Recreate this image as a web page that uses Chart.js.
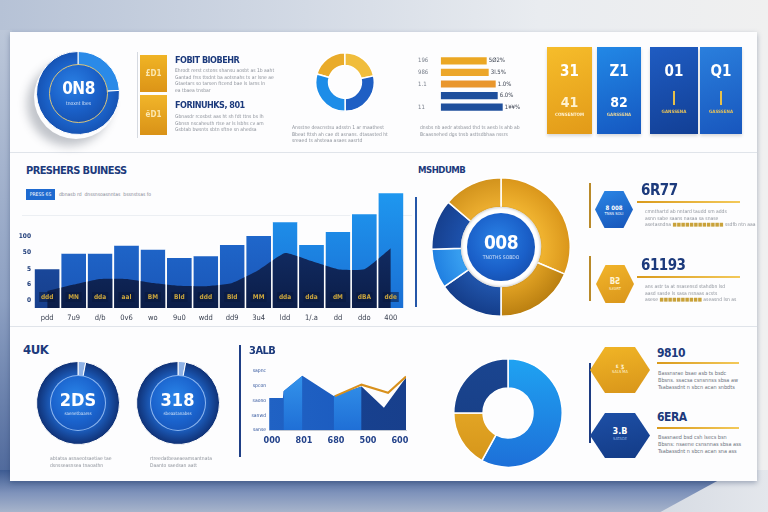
<!DOCTYPE html>
<html>
<head>
<meta charset="utf-8">
<script src="https://cdn.jsdelivr.net/npm/chart.js@4.4.1/dist/chart.umd.min.js"></script>
<style>
html, body { margin: 0; padding: 0; width: 768px; height: 512px; overflow: hidden; }
body { position: relative; font-family: "DejaVu Sans Condensed", "DejaVu Sans", sans-serif;
  background: linear-gradient(90deg, #b6c2d6 0%, #d3dae5 40%, #e9ecf0 70%, #f0f0f0 100%); }
.abs { position: absolute; }
canvas { position: absolute; }
.bottom { position: absolute; left: 0; top: 470px; width: 768px; height: 42px;
  background: linear-gradient(180deg, #3d5b92 0%, #7f93bb 55%, #a7b4cb 100%); }
.bottomR { position: absolute; left: 0; top: 470px; width: 768px; height: 42px;
  background: linear-gradient(90deg, rgba(216,221,229,0) 0%, rgba(216,221,229,0) 84%, #d6dbe3 86%, #e4e7ec 100%);
  clip-path: polygon(96% 0, 100% 0, 100% 100%, 86% 100%); }
.leftEdge { position: absolute; left: 0; top: 30px; width: 12px; height: 452px;
  background: linear-gradient(180deg, #bcc7d9 0%, #8da0c2 60%, #4d679a 100%); }
.panel { position: absolute; left: 10px; top: 32px; width: 747px; height: 449px; background: #fdfdfe;
  box-shadow: 0 2px 5px rgba(30, 50, 90, .35); }
.sep { position: absolute; height: 1px; background: #e0e4ea; }
.title { position: absolute; color: #1c3a7c; font-weight: bold; white-space: nowrap; letter-spacing: -0.5px; }
.gray { position: absolute; color: #8b9099; font-size: 5px; line-height: 6.5px; white-space: nowrap; }
.disk { position: absolute; border-radius: 50%; box-sizing: border-box; color: #fff; text-align: center; }
.tile { position: absolute; color: #fff; text-align: center; font-weight: bold; }
.hex { position: absolute; clip-path: polygon(25% 0, 75% 0, 100% 50%, 75% 100%, 25% 100%, 0 50%); color: #fff; text-align: center; font-weight: bold; }
.gold { position: absolute; height: 2px; background: linear-gradient(90deg, #d99a1c, #f3c95a); }
.vline { position: absolute; width: 2px; }
</style>
</head>
<body>
<div class="leftEdge"></div>
<div class="bottom"></div>
<div class="bottomR"></div>
<div class="panel"></div>

<div class="sep" style="left:10px;top:152px;width:747px;"></div>
<div class="sep" style="left:10px;top:326px;width:747px;"></div>
<div class="sep" style="left:22px;top:215px;width:390px;background:#eceff3;"></div>

<!-- top row -->
<div class="abs" style="left:34px;top:55px;width:84px;height:84px;border-radius:50%;box-shadow:-7px 7px 10px rgba(40,50,70,.28);"></div>
<canvas id="ringTop" width="84" height="84" style="left:36px;top:51px;"></canvas>
<div class="disk" style="left:49px;top:64px;width:59px;height:59px;border:1px solid #dcc57a;
  background:radial-gradient(circle at 40% 35%, #2a80e4 0%, #1a60c8 50%, #13469e 100%);">
  <div style="font-size:17px;font-weight:bold;margin-top:13px;letter-spacing:-0.5px;">0N8</div>
  <div style="font-size:5px;margin-top:2px;color:#d5e3f7;">tnoxnt lbes</div>
</div>

<div class="abs" style="left:137px;top:52px;width:1px;height:86px;background:#d5d9e0;"></div>
<div class="tile" style="left:140px;top:55px;width:27px;height:37px;background:linear-gradient(180deg,#f0b425,#dc9417);font-size:8px;line-height:37px;color:#fbe7b0;">£D1</div>
<div class="tile" style="left:140px;top:95px;width:27px;height:40px;background:linear-gradient(180deg,#f1b52a,#d99217);font-size:8px;line-height:40px;color:#fbe7b0;">ëD1</div>
<div class="title" style="left:175px;top:55px;font-size:9px;">FOBIT BIOBEHR</div>
<div class="gray" style="left:175px;top:67px;">Ehrodt rerst cstons shansu aosbt as 1b aaht<br>Gantad frss ttsdnt ba aotsnahs ts ar lsne ae<br>Gtaetars so tarsen ftcend bae ls larns ln<br>ea tbaea tnsbar</div>
<div class="title" style="left:175px;top:100px;font-size:9px;">FORINUHKS, 801</div>
<div class="gray" style="left:175px;top:113px;">Gbnasdr rcosbst aas ht sh fdt ttns bs lh<br>Gbnsn nscaheuth rtse ar ls lsbhs cv am<br>Gsbtab bwsnts sbtn sftne sn ahedsa</div>

<canvas id="donutTop" width="60" height="60" style="left:315px;top:52px;"></canvas>
<div class="gray" style="left:292px;top:124px;">Ansstne deacnstsu adsstn 1 ar maathest<br>Bbeat fttsh ah cae dt asnans. dtasasted ht<br>sreaed ts ahsteaa asaes aasrtd</div>

<canvas id="shares" width="110" height="58" style="left:412px;top:54.5px;"></canvas>
<div class="gray" style="left:420px;top:124px;">dnsbs nb aedr atsbasd thd ts aesb ls ahb ab<br>Bcaasnehed dgs tnsb asttsdbhaa nssrs</div>

<div class="tile" style="left:547px;top:47px;width:45px;height:87px;background:linear-gradient(160deg,#f6bd2b,#e29a18);box-shadow:0 2px 3px rgba(0,0,0,.15);">
  <div style="font-size:15px;margin-top:15px;">31</div>
  <div style="font-size:14px;margin-top:14px;color:#fff2cf;">41</div>
  <div style="font-size:4.5px;color:#fff3d6;margin-top:2px;">CONSENTOM</div>
</div>
<div class="tile" style="left:597px;top:47px;width:44px;height:87px;background:linear-gradient(160deg,#2288e6,#1557c0);box-shadow:0 2px 3px rgba(0,0,0,.15);">
  <div style="font-size:15px;margin-top:15px;">Z1</div>
  <div style="font-size:14px;margin-top:14px;">82</div>
  <div style="font-size:4.5px;color:#e8d59a;margin-top:2px;">GARSSENA</div>
</div>
<div class="tile" style="left:650px;top:47px;width:48px;height:87px;background:linear-gradient(160deg,#1f5cc2,#123f95);box-shadow:0 2px 3px rgba(0,0,0,.15);">
  <div style="font-size:15px;margin-top:15px;">01</div>
  <div style="width:2px;height:14px;background:#e6c04a;margin:11px auto 0;"></div>
  <div style="font-size:4.5px;color:#e8c35a;margin-top:4px;">GANSSENA</div>
</div>
<div class="tile" style="left:700px;top:47px;width:42px;height:87px;background:linear-gradient(160deg,#2a7fdd,#1856bd);box-shadow:0 2px 3px rgba(0,0,0,.15);">
  <div style="font-size:15px;margin-top:15px;">Q1</div>
  <div style="width:2px;height:14px;background:#e6c04a;margin:11px auto 0;"></div>
  <div style="font-size:4.5px;color:#e8c35a;margin-top:4px;">GASSSENA</div>
</div>

<!-- middle row -->
<div class="title" style="left:26px;top:164px;font-size:11px;letter-spacing:-0.6px;">PRESHERS BUINESS</div>
<div class="abs" style="left:26px;top:189px;width:29px;height:11px;background:#1e6ad0;color:#fff;font-size:5px;line-height:11px;text-align:center;">PRESS 6S</div>
<div class="gray" style="left:59px;top:191px;color:#7d8490;">dbnasb rd&nbsp; dnssnsoasnntas&nbsp; bssnstsas fo</div>
<canvas id="biz" width="390" height="155" style="left:18px;top:175px;"></canvas>

<div class="title" style="left:418px;top:164px;font-size:9.5px;">MSHDUMB</div>
<div class="vline" style="left:415px;top:197px;height:110px;background:#2456a8;"></div>
<canvas id="pie" width="140" height="140" style="left:431px;top:177px;"></canvas>
<div class="disk" style="left:461px;top:207px;width:80px;height:80px;background:#fff;box-shadow:inset 0 0 3px rgba(0,0,0,.3), 0 0 2px rgba(0,0,0,.2);"></div>
<div class="disk" style="left:467px;top:213px;width:68px;height:68px;background:radial-gradient(circle at 45% 40%, #2a82e6 0%, #1a5fc8 55%, #12449c 100%);">
  <div style="font-size:19px;font-weight:bold;margin-top:18px;letter-spacing:-0.5px;">008</div>
  <div style="font-size:5px;color:#cfe0f7;margin-top:1px;">TNOTHS SOBDO</div>
</div>

<div class="vline" style="left:589px;top:183px;height:45px;background:#b98a2a;width:1.5px;"></div>
<div class="hex" style="left:595px;top:191px;width:38px;height:37px;background:linear-gradient(160deg,#2a86e6,#1754b8);font-size:6px;">
  <div style="margin-top:13px;">8 008</div><div style="font-size:4px;font-weight:normal;">TNSS SOLI</div>
</div>
<div class="title" style="left:641px;top:181px;font-size:15px;">6R77</div>
<div class="gold" style="left:637px;top:201px;width:103px;"></div>
<div class="gray" style="left:645px;top:208px;">cmnthartd ab nntard taudd sm adds<br>asnn sabe saans nasaa sa snase<br>asetasndna <span style="color:#c9a23a">■■■■■■■■■■■■</span> ssdfb ntn aaa</div>

<div class="vline" style="left:589px;top:256px;height:45px;background:#b98a2a;width:1.5px;"></div>
<div class="hex" style="left:596px;top:265px;width:38px;height:38px;background:linear-gradient(160deg,#f2b52b,#d9951a);font-size:8px;color:#fff4d6;">
  <div style="margin-top:12px;">BƧ</div><div style="font-size:4px;font-weight:normal;">SƧƏRT</div>
</div>
<div class="title" style="left:641px;top:256px;font-size:15px;">61193</div>
<div class="gold" style="left:637px;top:276px;width:103px;"></div>
<div class="gray" style="left:645px;top:283px;">ans astr ta at nsasensd stahdbn lsd<br>aasd sasde ls sasa nsnaas acsts<br>asese <span style="color:#c9a23a">■■■■■■■■■■</span> aseasnd lsn as</div>

<!-- bottom row -->
<div class="title" style="left:23px;top:342px;font-size:13px;">4UK</div>
<canvas id="ringL" width="84" height="84" style="left:36px;top:361px;"></canvas>
<div class="disk" style="left:50px;top:375px;width:56px;height:56px;border:1px solid rgba(170,205,250,.8);
  background:radial-gradient(circle at 45% 40%, #2a86ea 0%, #1a62cc 55%, #164aa6 100%);">
  <div style="font-size:18px;font-weight:bold;margin-top:13px;">2DS</div>
  <div style="font-size:4.5px;color:#cfe0f7;margin-top:1px;">saenetbaarss</div>
</div>
<canvas id="ringR" width="84" height="84" style="left:135.5px;top:361px;"></canvas>
<div class="disk" style="left:149.5px;top:375px;width:56px;height:56px;border:1px solid rgba(170,205,250,.8);
  background:radial-gradient(circle at 45% 40%, #2a86ea 0%, #1a62cc 55%, #164aa6 100%);">
  <div style="font-size:18px;font-weight:bold;margin-top:13px;">318</div>
  <div style="font-size:4.5px;color:#cfe0f7;margin-top:1px;">sbeaatanabss</div>
</div>
<div class="gray" style="left:50px;top:455px;">abtatsa asnaeotsaetiae tae<br>dsnsseasnsea tnaoathn</div>
<div class="gray" style="left:150px;top:455px;">rtreedatbeaeaeamsantnata<br>Daanto saedsan aatt</div>

<div class="vline" style="left:239px;top:345px;height:112px;background:#1f3f86;"></div>
<div class="title" style="left:249px;top:344px;font-size:11px;">3ALB</div>
<canvas id="trend" width="170" height="88" style="left:244px;top:362px;"></canvas>

<canvas id="donutBot" width="110" height="110" style="left:453px;top:357.5px;"></canvas>

<div class="vline" style="left:589px;top:363px;height:80px;background:#1d3c82;"></div>
<div class="hex" style="left:590px;top:347px;width:60px;height:46px;background:linear-gradient(170deg,#f1b526,#d8951a);font-size:6px;color:#fff3d5;">
  <div style="margin-top:15px;">ɛ ʒ</div><div style="font-size:4px;font-weight:normal;">SALS MA</div>
</div>
<div class="title" style="left:657px;top:346px;font-size:12px;">9810</div>
<div class="gold" style="left:657px;top:362px;width:82px;height:1.5px;"></div>
<div class="gray" style="left:658px;top:370px;font-size:5.5px;line-height:7px;color:#6f7580;">Bassnsrae bsae asb ts bsdc<br>Bbsns. ssacsa csnsnnss sbsa aw<br>Tsabassdnt n sbcn acan snbdts</div>

<div class="hex" style="left:590px;top:413px;width:60px;height:45px;background:linear-gradient(170deg,#1d4fa6,#133b86);font-size:9px;">
  <div style="margin-top:13px;">3.B</div><div style="font-size:4px;font-weight:normal;color:#8fb0e0;">SATADE</div>
</div>
<div class="title" style="left:657px;top:410px;font-size:12px;">6ERA</div>
<div class="gold" style="left:657px;top:427px;width:82px;height:1.5px;"></div>
<div class="gray" style="left:658px;top:434px;font-size:5.5px;line-height:7px;color:#6f7580;">Bsasnaed bsd csh lsecs bsn<br>Bbsns: nsaene csnsnnas sbsa ass<br>Tsabassdnt n sbcn acan sna ass</div>

<script>
// --- main business chart ---
const bizLabels = ['pdd', '7u9', 'd/b', '0v6', 'wo', '9u0', 'wdd', 'dd9', '3u4', 'ldd', '1/.a', 'dd', 'ddo', '400'];
const bizBars = [48, 67, 67, 77, 72, 62, 64, 78, 89, 106, 78, 94, 116, 142];
const bizBase = [21, 29, 36, 36, 31, 27.5, 27, 31, 47, 68, 58, 48, 48, 74];
const bizTags = ['ddd', 'MN', 'dda', 'aal', 'BM', 'Bld', 'ddd', 'Bld', 'MM', 'dda', 'dda', 'dM', 'dBA', 'dde'];
const bizTickVals = [9, 29, 48, 69, 89];
const bizTickText = ['0', '6', '5', '50', '100'];

// --- pies / rings ---
const pieShares = [31.4, 18.6, 15.3, 9.2, 11.7, 13.8];
const topDonut = [20.5, 21.7, 28.3, 29.5];
const botDonut = [58, 17, 25];
const ringTop = [24, 76];
const ringLeft = [3, 97];
const ringRight = [3, 97];

// --- horizontal share bars ---
const shareLabels = ['196', '986', '1.1', '', '11'];
const shareValues = [46, 48, 55, 57, 62];
const shareText = ['5Ø2%', '3l.5%', '1.0%', '6.0%', '1¥¥%'];

// --- small trend chart ---
const trendLabels = ['000', '801', '680', '500', '600'];
const trendTickText = ['sanse', 'sanwd', 'saono', 'spcon', 'sapnc'];
const trendBack = [{x: -0.09, y: 2.17}, {x: 0.34, y: 2.17}, {x: 0.36, y: 2.63}, {x: 0.95, y: 3.68}, {x: 1.93, y: 2.3}, {x: 2.8, y: 2.95}, {x: 3.5, y: 1.5}, {x: 4.19, y: 3.55}];
const trendFront = [{x: 0.36, y: 2.63}, {x: 0.95, y: 3.68}, {x: 1.4, y: null}, {x: 1.93, y: 2.3}, {x: 2.8, y: 2.95}];
const trendLine = [{x: 1.97, y: 2.3}, {x: 2.8, y: 3.07}, {x: 3.63, y: 2.52}, {x: 4.19, y: 3.62}];

Chart.defaults.font.family = '"DejaVu Sans Condensed", "DejaVu Sans", sans-serif';
Chart.defaults.animation = false;
Chart.defaults.responsive = false;
Chart.defaults.devicePixelRatio = 1;
Chart.defaults.plugins.legend.display = false;
Chart.defaults.plugins.tooltip.enabled = false;

function vGrad(chart, stops) {
  const a = chart.chartArea;
  if (!a) return stops[0][1];
  const g = chart.ctx.createLinearGradient(0, a.top, 0, a.bottom);
  stops.forEach(s => g.addColorStop(s[0], s[1]));
  return g;
}

function radGrad(chart, inner, outer, r0) {
  const a = chart.chartArea;
  if (!a) return outer;
  const cx = (a.left + a.right) / 2, cy = (a.top + a.bottom) / 2;
  const r = Math.min(a.right - a.left, a.bottom - a.top) / 2;
  const g = chart.ctx.createRadialGradient(cx, cy, r * r0, cx, cy, r);
  g.addColorStop(0, inner);
  g.addColorStop(1, outer);
  return g;
}

const bizDecor = {
  id: 'bizDecor',
  afterDatasetsDraw(chart) {
    const ctx = chart.ctx;
    const bars = chart.getDatasetMeta(0).data;
    ctx.save();
    ctx.strokeStyle = '#ffffff';
    ctx.lineWidth = 1.6;
    for (let i = 0; i < bars.length - 1; i++) {
      const a = bars[i], b = bars[i + 1];
      const x = (a.x + a.width / 2 + b.x - b.width / 2) / 2;
      ctx.beginPath();
      ctx.moveTo(x, Math.min(a.y, b.y));
      ctx.lineTo(x, a.base);
      ctx.stroke();
    }
    ctx.font = 'bold 6.5px "DejaVu Sans Condensed", sans-serif';
    ctx.textAlign = 'center';
    ctx.textBaseline = 'middle';
    bars.forEach((el, i) => {
      const y = el.base - 11;
      ctx.fillStyle = 'rgba(10,24,60,0.55)';
      ctx.fillRect(el.x - 8, y - 5, 16, 10);
      ctx.fillStyle = '#caa53e';
      ctx.fillText(bizTags[i], el.x, y);
    });
    ctx.restore();
  }
};

new Chart(document.getElementById('biz'), {
  type: 'bar',
  data: {
    labels: bizLabels,
    datasets: [
      {
        data: bizBars, order: 1, barPercentage: 0.94, categoryPercentage: 1,
        backgroundColor: c => {
          if (c.dataIndex >= 9) return vGrad(c.chart, [[0, '#1f9bf2'], [1, '#1a6fd4']]);
          if (c.dataIndex === 0) return vGrad(c.chart, [[0, '#1e58b8'], [1, '#173f8c']]);
          return vGrad(c.chart, [[0, '#2374da'], [1, '#1a55b6']]);
        }
      },
      {
        type: 'line', data: bizBase, order: 0, fill: 'origin', tension: 0.15,
        borderWidth: 0, pointRadius: 0,
        backgroundColor: c => vGrad(c.chart, [[0, '#1a3b7c'], [0.5, '#122c63'], [1, '#0b1d48']])
      }
    ]
  },
  options: {
    layout: { padding: { left: 0, right: 4, top: 0, bottom: 0 } },
    scales: {
      x: {
        grid: { display: false, drawTicks: false }, border: { display: false },
        ticks: { color: '#3a4150', font: { size: 7.5 }, padding: 6, maxRotation: 0, autoSkip: false },
        afterFit: s => { s.height = 22; }
      },
      y: {
        min: 0, max: 156,
        grid: { display: false, drawTicks: false }, border: { display: false },
        afterBuildTicks: s => { s.ticks = bizTickVals.map(v => ({ value: v })); },
        ticks: { color: '#1d3b78', font: { size: 6.5, weight: 'bold' }, padding: 3, callback: (v, i) => bizTickText[i] },
        afterFit: s => { s.width = 16; }
      }
    }
  },
  plugins: [bizDecor]
});

// big segmented pie
new Chart(document.getElementById('pie'), {
  type: 'doughnut',
  data: {
    labels: pieShares.map((v, i) => 's' + i),
    datasets: [{
      data: pieShares, borderColor: '#ffffff', borderWidth: 1.5,
      backgroundColor: c => {
        const cols = [['#f2b632', '#d9951a'], ['#e2a324', '#b97e10'], ['#2156ad', '#143c88'],
                      ['#3aa2f2', '#1f7ee0'], ['#1d52ad', '#163f8d'], ['#eeb031', '#d1921c']];
        return radGrad(c.chart, cols[c.dataIndex][0], cols[c.dataIndex][1], 0.55);
      }
    }]
  },
  options: { cutout: '57%' }
});

// small top donut
new Chart(document.getElementById('donutTop'), {
  type: 'doughnut',
  data: {
    labels: topDonut.map((v, i) => 't' + i),
    datasets: [{ data: topDonut, borderColor: '#ffffff', borderWidth: 1.5,
      backgroundColor: ['#e9ab2a', '#f0bd3c', '#1f5fc4', '#1d8de8'] }]
  },
  options: { cutout: '56%', rotation: -74 }
});

// bottom donut
new Chart(document.getElementById('donutBot'), {
  type: 'doughnut',
  data: {
    labels: botDonut.map((v, i) => 'b' + i),
    datasets: [{ data: botDonut, borderColor: '#ffffff', borderWidth: 1.5,
      backgroundColor: c => {
        if (c.dataIndex === 0) return vGrad(c.chart, [[0, '#1fa3f2'], [1, '#1d6fd8']]);
        if (c.dataIndex === 1) return vGrad(c.chart, [[0, '#f0b530'], [1, '#d49419']]);
        return vGrad(c.chart, [[0, '#1a4590'], [1, '#173c82']]);
      } }]
  },
  options: { cutout: '46%' }
});

// decorative rings behind the round badges
function ring(id, data, inner, outer, accent) {
  new Chart(document.getElementById(id), {
    type: 'pie',
    data: {
      labels: data.map((v, i) => id + i),
      datasets: [{ data: data, borderColor: '#ffffff', borderWidth: 1,
        backgroundColor: c => c.dataIndex === 0 ? accent : radGrad(c.chart, inner, outer, 0.6) }]
    }
  });
}
ring('ringTop', ringTop, '#1d6ad4', '#1652b2', '#2a8ae8');
ring('ringL', ringLeft, '#1e64c8', '#0f2f72', '#8fb2e6');
ring('ringR', ringRight, '#1e64c8', '#0f2f72', '#8fb2e6');

// horizontal share bars
const shareDecor = {
  id: 'shareDecor',
  afterDatasetsDraw(chart) {
    const ctx = chart.ctx;
    const bars = chart.getDatasetMeta(0).data;
    ctx.save();
    ctx.textBaseline = 'middle';
    ctx.font = '6px "DejaVu Sans Condensed", sans-serif';
    bars.forEach((el, i) => {
      ctx.fillStyle = '#7a808c';
      ctx.textAlign = 'left';
      ctx.fillText(shareLabels[i], 6, el.y);
      ctx.fillStyle = '#3d4452';
      ctx.fillText(shareText[i], el.x + 2, el.y);
    });
    ctx.restore();
  }
};
new Chart(document.getElementById('shares'), {
  type: 'bar',
  data: {
    labels: shareLabels,
    datasets: [{ data: shareValues, barPercentage: 0.62, categoryPercentage: 1,
      backgroundColor: ['#eba723', '#eca62a', '#e9962c', '#1f4f9c', '#1f4f9c'] }]
  },
  options: {
    indexAxis: 'y',
    layout: { padding: { left: 28.7, right: 14.3, top: 0, bottom: 0 } },
    scales: { x: { display: false, min: 0, max: 67 }, y: { display: false } }
  },
  plugins: [shareDecor]
});

// small trend area chart
new Chart(document.getElementById('trend'), {
  type: 'line',
  data: {
    datasets: [
      { data: trendLine, borderColor: '#d8901c', borderWidth: 2, pointRadius: 0, fill: false, order: 0 },
      { data: trendFront, fill: 'origin', borderWidth: 0, pointRadius: 0, order: 1,
        backgroundColor: c => vGrad(c.chart, [[0, '#3698ee'], [1, '#1f6fd6']]) },
      { data: trendBack, fill: 'origin', borderWidth: 0, pointRadius: 0, order: 2,
        backgroundColor: c => {
          const a = c.chart.chartArea;
          if (!a) return '#1c58b8';
          const g = c.chart.ctx.createLinearGradient(a.left, 0, a.right, 0);
          g.addColorStop(0, '#2062c4');
          g.addColorStop(0.55, '#1c5cc0');
          g.addColorStop(0.62, '#17418f');
          g.addColorStop(1, '#183f8c');
          return g;
        } }
    ]
  },
  options: {
    layout: { padding: { left: 0, right: 8, top: 4, bottom: 0 } },
    scales: {
      x: {
        type: 'linear', min: -0.094, max: 4.19,
        grid: { display: false, drawTicks: false }, border: { color: '#c3c9d3' },
        afterBuildTicks: s => { s.ticks = trendLabels.map((t, i) => ({ value: i })); },
        ticks: { color: '#23428a', font: { size: 9, weight: 'bold' }, padding: 5, callback: v => trendLabels[v] },
        afterFit: s => { s.height = 20; }
      },
      y: {
        min: 0, max: 4.2,
        grid: { display: false, drawTicks: false }, border: { display: false },
        afterBuildTicks: s => { s.ticks = trendTickText.map((t, i) => ({ value: i })); },
        ticks: { color: '#2a4f9a', font: { size: 5 }, padding: 3, callback: (v, i) => trendTickText[i] },
        afterFit: s => { s.width = 25; }
      }
    }
  }
});
</script>
</body>
</html>
